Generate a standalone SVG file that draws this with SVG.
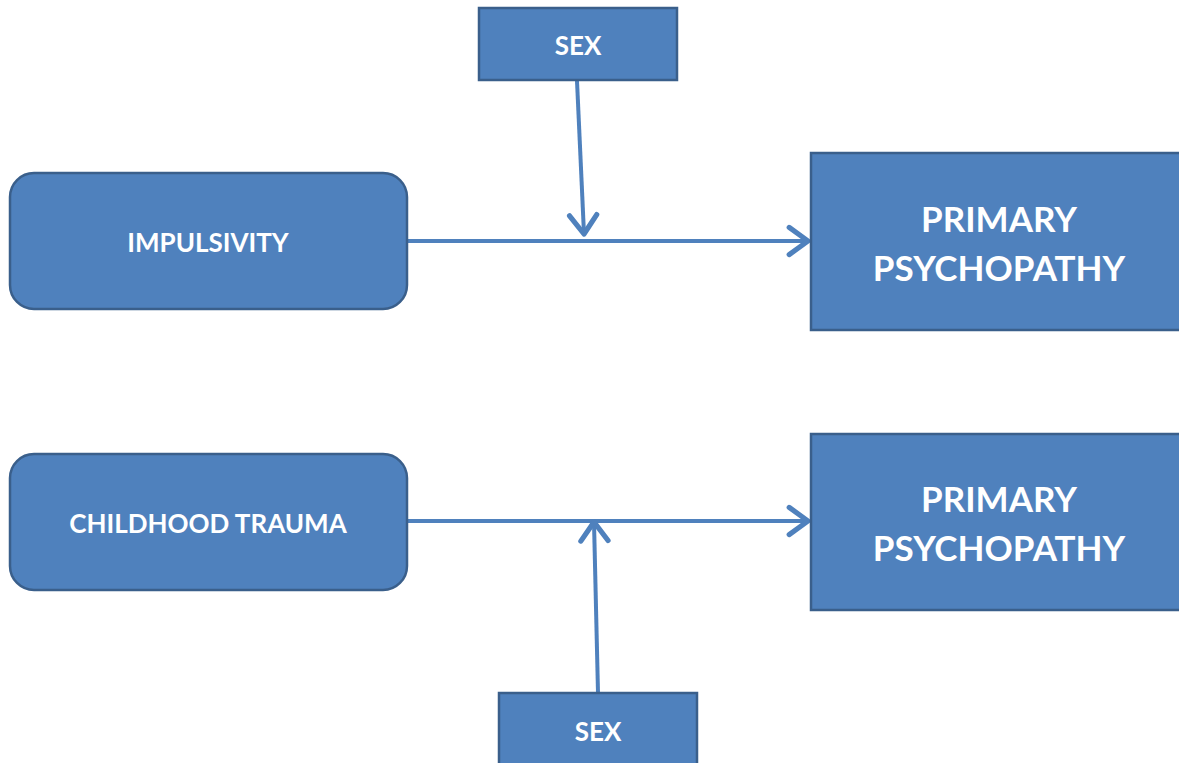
<svg xmlns="http://www.w3.org/2000/svg" width="1179" height="763" viewBox="0 0 1179 763">
<style>
.box{fill:#4F81BD;stroke:#3A5F8B;stroke-width:2.5}
.lbl{font-family:Lato,"Open Sans","Liberation Sans",sans-serif;font-weight:bold;fill:#FFFFFF;text-anchor:middle;dominant-baseline:central}
.s{font-size:26px}
.b{font-size:35px}
.con{stroke:#4F81BD;stroke-width:4;fill:none;marker-end:url(#arr)}
</style>
<defs>
<marker id="arr" markerWidth="8" markerHeight="10" refX="6.5" refY="5" orient="auto" markerUnits="strokeWidth" viewBox="0 0 8 10">
<path d="M1.8,1.6 L6.5,5 L1.8,8.4" fill="none" stroke="#4F81BD" stroke-width="1.3" stroke-linecap="round" stroke-linejoin="round"/>
</marker>
</defs>
<rect width="1179" height="763" fill="#FFFFFF"/>
<g id="connectors">
<line class="con" x1="407" y1="241" x2="808" y2="241"/>
<line class="con" x1="577" y1="81" x2="584" y2="234"/>
<line class="con" x1="407" y1="521" x2="808" y2="521"/>
<line class="con" x1="598" y1="693" x2="594" y2="522"/>
</g>
<g id="sex-top">
<rect class="box" x="479" y="8" width="198" height="72"/>
<text class="lbl s" x="578" y="45">SEX</text>
</g>
<g id="impulsivity">
<rect class="box" x="10" y="173" width="397" height="136" rx="24"/>
<text class="lbl s" x="208" y="242">IMPULSIVITY</text>
</g>
<g id="primary-top">
<rect class="box" x="811" y="153" width="372" height="177"/>
<text class="lbl b" x="999" y="218">PRIMARY</text>
<text class="lbl b" x="999" y="267">PSYCHOPATHY</text>
</g>
<g id="childhood-trauma">
<rect class="box" x="10" y="454" width="397" height="136" rx="24"/>
<text class="lbl s" x="208" y="523">CHILDHOOD TRAUMA</text>
</g>
<g id="primary-bottom">
<rect class="box" x="811" y="434" width="372" height="176"/>
<text class="lbl b" x="999" y="498">PRIMARY</text>
<text class="lbl b" x="999" y="547">PSYCHOPATHY</text>
</g>
<g id="sex-bottom">
<rect class="box" x="499" y="693" width="198" height="80"/>
<text class="lbl s" x="598" y="731">SEX</text>
</g>
</svg>
